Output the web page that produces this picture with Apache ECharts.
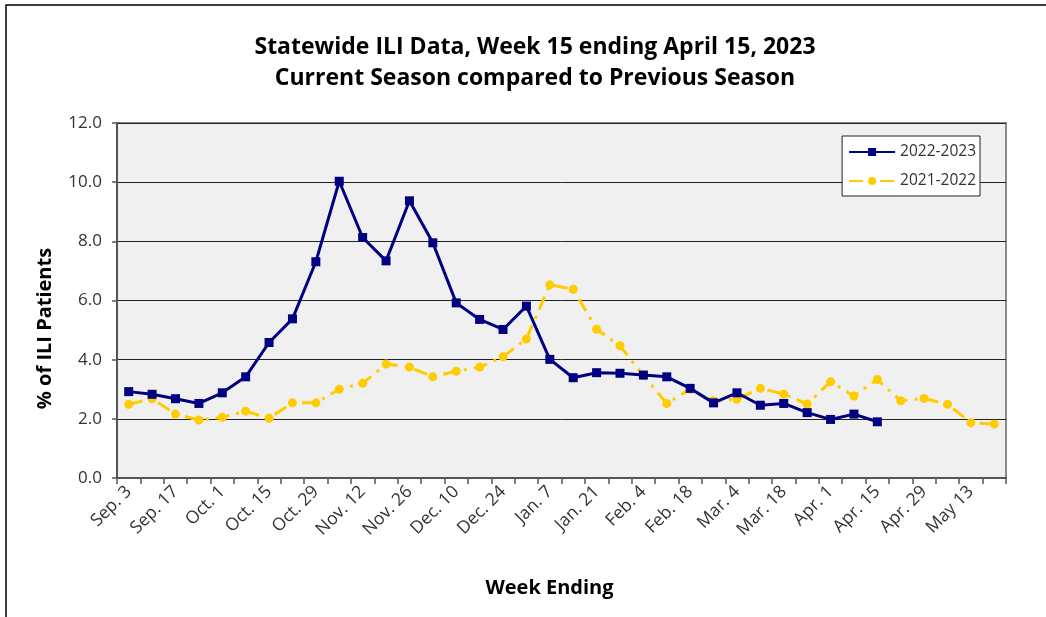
<!DOCTYPE html>
<html>
<head>
<meta charset="utf-8">
<script src="https://cdn.jsdelivr.net/npm/echarts@6/dist/echarts.min.js"></script>
<style>
  html, body { margin: 0; padding: 0; background: #fff; }
  #chart { width: 1046px; height: 617px; }
</style>
</head>
<body>
<div id="chart"></div>
<script>
// week-ending labels, Sep. 3 through May 20
var weeks = ['Sep. 3', 'Sep. 10', 'Sep. 17', 'Sep. 24', 'Oct. 1', 'Oct. 8', 'Oct. 15', 'Oct. 22',
  'Oct. 29', 'Nov. 5', 'Nov. 12', 'Nov. 19', 'Nov. 26', 'Dec. 3', 'Dec. 10', 'Dec. 17', 'Dec. 24',
  'Dec. 31', 'Jan. 7', 'Jan. 14', 'Jan. 21', 'Jan. 28', 'Feb. 4', 'Feb. 11', 'Feb. 18', 'Feb. 25',
  'Mar. 4', 'Mar. 11', 'Mar. 18', 'Mar. 25', 'Apr. 1', 'Apr. 8', 'Apr. 15', 'Apr. 22', 'Apr. 29',
  'May 6', 'May 13', 'May 20'];

var season2223 = [2.92, 2.83, 2.68, 2.52, 2.88, 3.42, 4.58, 5.38, 7.31, 10.03, 8.13, 7.34, 9.37,
  7.95, 5.92, 5.36, 5.02, 5.81, 4.01, 3.39, 3.56, 3.54, 3.48, 3.42, 3.03, 2.54, 2.88, 2.46, 2.52,
  2.21, 1.98, 2.16, 1.90];

var season2122 = [2.49, 2.68, 2.16, 1.96, 2.05, 2.26, 2.02, 2.54, 2.54, 3.00, 3.20, 3.85, 3.75,
  3.42, 3.61, 3.75, 4.10, 4.70, 6.53, 6.38, 5.03, 4.47, 3.46, 2.52, 3.00, 2.61, 2.66, 3.03, 2.84,
  2.50, 3.25, 2.77, 3.33, 2.61, 2.69, 2.49, 1.87, 1.82];

var yTicks = [0, 2, 4, 6, 8, 10, 12];

var font = '"Open Sans", "Noto Sans", sans-serif';
var navy = '#000080';
var gold = '#FFCC00';

var chart = echarts.init(document.getElementById('chart'), null, { renderer: 'canvas' });
chart.setOption({
  animation: false,
  backgroundColor: '#fff',
  title: {
    text: 'Statewide ILI Data, Week 15 ending April 15, 2023\nCurrent Season compared to Previous Season',
    left: 530,
    textAlign: 'center',
    top: 27,
    textStyle: { fontFamily: font, fontWeight: 'bold', fontSize: 23, color: '#000', lineHeight: 31 }
  },
  grid: {
    left: 117, right: 40, top: 123, bottom: 139,
    show: true, backgroundColor: '#f0f0f0', borderColor: '#8a8a8a', borderWidth: 2
  },
  legend: {
    right: 66, top: 136,
    orient: 'vertical',
    backgroundColor: '#fff',
    borderColor: '#222', borderWidth: 1,
    padding: [8, 4, 7, 6],
    itemGap: 13,
    itemWidth: 46, itemHeight: 10,
    textStyle: { fontFamily: font, fontSize: 15.5, color: '#333' },
    data: ['2022-2023', '2021-2022']
  },
  xAxis: {
    type: 'category',
    data: weeks,
    boundaryGap: true,
    name: 'Week Ending',
    nameLocation: 'middle',
    nameGap: 100,
    nameTextStyle: { fontFamily: font, fontWeight: 'bold', fontSize: 20, color: '#000', padding: [0, 24, 0, 0] },
    axisLine: { lineStyle: { color: '#555', width: 2 } },
    axisTick: { show: true, interval: 0, length: 6, lineStyle: { color: '#555', width: 1.5 } },
    axisLabel: {
      interval: 1, rotate: 45, margin: 11,
      fontFamily: font, fontSize: 17.5, color: '#333'
    },
    splitLine: { show: false }
  },
  yAxis: {
    type: 'value',
    min: yTicks[0], max: yTicks[yTicks.length - 1], interval: 2,
    name: '% of ILI Patients',
    nameLocation: 'middle',
    nameGap: 62,
    nameRotate: 90,
    nameTextStyle: { fontFamily: font, fontWeight: 'bold', fontSize: 20, color: '#000', padding: [0, 56, 0, 0] },
    axisLine: { show: true, lineStyle: { color: '#555', width: 2 } },
    axisTick: { show: true, length: 5, lineStyle: { color: '#555', width: 1.5 } },
    axisLabel: {
      margin: 15, fontFamily: font, fontSize: 17, color: '#333',
      formatter: function (v) { return v.toFixed(1); }
    },
    splitLine: { lineStyle: { color: '#222', width: 1 } }
  },
  series: [
    {
      name: '2022-2023',
      type: 'line',
      data: season2223,
      symbol: 'rect',
      symbolSize: 9,
      z: 3,
      lineStyle: { color: navy, width: 3 },
      itemStyle: { color: navy }
    },
    {
      name: '2021-2022',
      type: 'line',
      data: season2122,
      symbol: 'circle',
      symbolSize: 9,
      z: 2,
      lineStyle: { color: gold, width: 3, type: [14, 7, 3, 7] },
      itemStyle: { color: gold }
    }
  ],
  graphic: [{
    type: 'rect',
    shape: { x: 6, y: 5, width: 1200, height: 800 },
    style: { fill: 'none', stroke: '#000', lineWidth: 1.5 },
    silent: true
  }]
});
</script>
</body>
</html>
